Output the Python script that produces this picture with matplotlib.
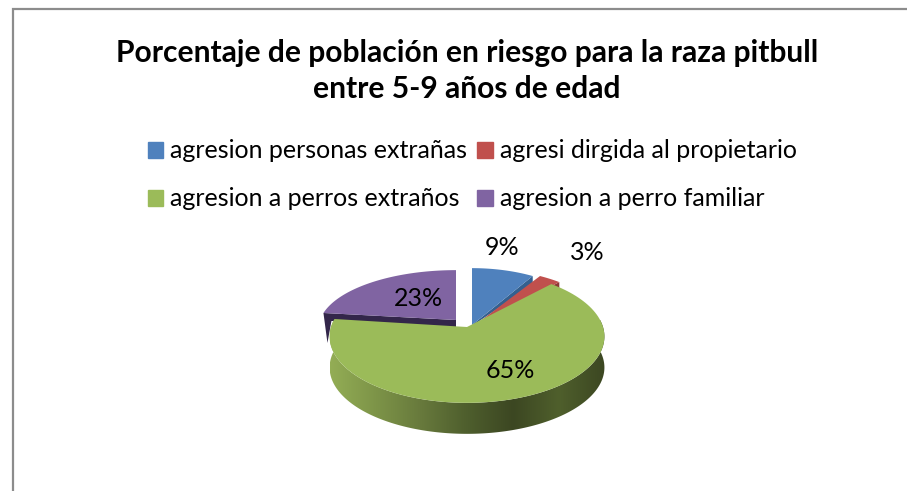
import numpy as np
import matplotlib
matplotlib.use("Agg")
import matplotlib.pyplot as plt
from matplotlib.colors import LinearSegmentedColormap
from matplotlib.patches import Patch, Polygon

title = "Porcentaje de población en riesgo para la raza pitbull\nentre 5-9 años de edad"
categories = ["agresion personas extrañas", "agresi dirgida al propietario",
              "agresion a perros extraños", "agresion a perro familiar"]
values = [9, 3, 65, 23]
top_colors = ["#4f81bd", "#c0504d", "#9bbb59", "#8064a2"]
cut_colors = ["#34608f", "#8c3836", "#3f4c22", "#33264a"]
wall_shades = ["#93ad55", "#7d9448", "#67793c", "#4e5e2d", "#3c4722", "#4f5f2c", "#3c4722"]

# apex of each slice in pixels, they are pulled apart a bit
apex_x = [472, 475, 467, 456]
apex_y = [325, 325, 327, 320]
rx = [127, 136, 136, 136]
ry = [65, 65, 65, 57]
persp = 0.143
depth = 31


def rim(angle, i):
    """Clockwise angle from the top, to pixels with a little perspective."""
    x = np.sin(angle)
    y = np.cos(angle)
    w = 1 + persp * y
    return apex_x[i] + rx[i] * x / w, apex_y[i] - ry[i] * y / w


def slice_points(a0, a1, i):
    t = np.linspace(a0, a1, 120)
    xs, ys = rim(t, i)
    return np.r_[apex_x[i], xs], np.r_[apex_y[i], ys]


fig = plt.figure(figsize=(9.07, 4.91), dpi=100)
ax = fig.add_axes([0, 0, 1, 1])
ax.set_xlim(0, 907)
ax.set_ylim(491, 0)
ax.axis("off")

ax.plot([12.5, 12.5, 907], [491, 8.5, 8.5], color="#8c8c8c", lw=1.6, solid_joinstyle="miter")

fracs = np.array(values) / sum(values)
edges = np.r_[0, np.cumsum(fracs)] * 2 * np.pi

# purple first, then blue and red, the big green slice goes on top
for i in [3, 0, 1]:
    xs, ys = slice_points(edges[i], edges[i + 1], i)
    if i == 3:
        x0, y0 = rim(edges[i], i)
        ax.fill([x0, x0 + 4, x0 + 8, apex_x[i], apex_x[i]],
                [y0, y0 + 30, y0 + 8, apex_y[i] + 8, apex_y[i]],
                color=cut_colors[i], lw=0)
    else:
        x1, y1 = rim(edges[i + 1], i)
        ax.fill([apex_x[i], x1, x1, apex_x[i]],
                [apex_y[i], y1, y1 + 9, apex_y[i] + 1],
                color=cut_colors[i], lw=0)
    ax.fill(xs, ys, color=top_colors[i], lw=0)

# green wall with the dark gradient, clipped to the rim moved down
a0 = edges[2]
a1 = edges[3]
t = np.linspace(max(a0, np.pi * 0.46), a1 - 0.02, 200)
wx, wy = rim(t, 2)
wall = Polygon(np.c_[np.r_[wx, wx[::-1]], np.r_[wy, wy[::-1] + depth]],
               closed=True, transform=ax.transData, lw=0, fc="none")
ax.add_patch(wall)
cmap = LinearSegmentedColormap.from_list("wall", wall_shades)
grad = ax.imshow(np.linspace(0, 1, 256)[None, :], cmap=cmap, aspect="auto",
                 extent=[wx.min(), wx.max(), 440, 320], zorder=2)
grad.set_clip_path(wall)
ax.set_xlim(0, 907)
ax.set_ylim(491, 0)

xs, ys = slice_points(a0, a1, 2)
ax.fill(xs, ys, color=top_colors[2], lw=0, zorder=3)

label_x = [502, 587, 510, 418]
label_y = [247, 253, 370, 298]
for i, v in enumerate(values):
    ax.text(label_x[i], label_y[i], f"{v}%", fontsize=18, ha="center", va="center",
            family="Lato", color="black", zorder=5)

ax.text(467, 71, title, fontsize=21.6, fontweight="bold", family="Lato", ha="center",
        va="center", linespacing=1.34, color="black")

handles = [Patch(color=c, label=n) for c, n in zip(top_colors, categories)]
# legend fills column by column
order = [0, 2, 1, 3]
ax.legend([handles[i] for i in order], [categories[i] for i in order], ncols=2,
          loc="upper left", bbox_to_anchor=(140 / 907, 1 - 132 / 491), frameon=False,
          prop={"family": "Lato", "size": 18}, handlelength=0.62, handleheight=0.62,
          handletextpad=0.27, columnspacing=0.42, labelspacing=1.0, borderpad=0.3, borderaxespad=0)

fig.savefig("out.png", dpi=100)
